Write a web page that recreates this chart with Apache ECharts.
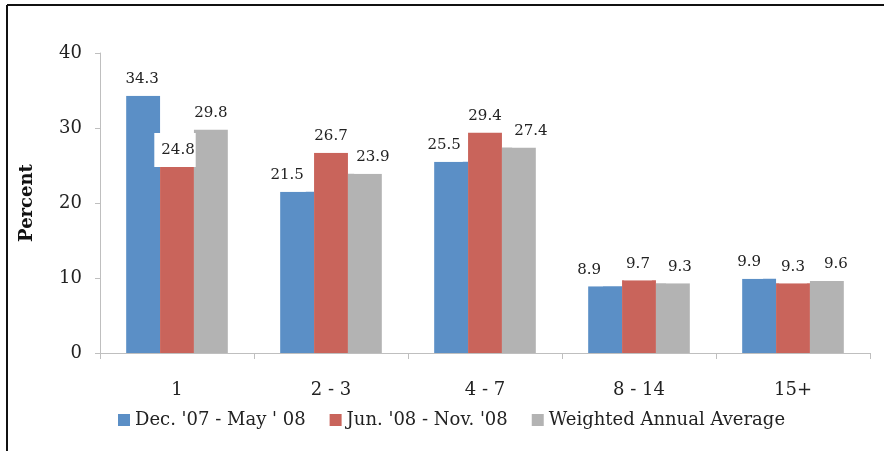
<!DOCTYPE html>
<html><head><meta charset="utf-8">
<script src="https://cdn.jsdelivr.net/npm/echarts@6/dist/echarts.min.js"></script>
<style>html,body{margin:0;padding:0;background:#fff}#c{width:884px;height:451px}</style>
</head><body><div id="c"></div>
<script>
const categories = ['1', '2 - 3', '4 - 7', '8 - 14', '15+'];
const seriesNames = ["Dec. '07 - May ' 08", "Jun. '08 - Nov. '08", "Weighted Annual Average"];
const decMay = [34.3, 21.5, 25.5, 8.9, 9.9];
const junNov = [24.8, 26.7, 29.4, 9.7, 9.3];
const weighted = [29.8, 23.9, 27.4, 9.3, 9.6];
const yTicks = [0, 10, 20, 30, 40];
const colors = ['#5b8fc6', '#c9645b', '#b3b3b3'];
const font = 'DejaVu Serif';

// horizontal label nudges (px) mimicking the original's overlap avoidance
const labelNudge = [
  [-1, -10, -7, -16, -10],
  [-2, 0, 0, -1, 0],
  [0, 8, 12, 7, 9]
];

const chart = echarts.init(document.getElementById('c'), null, {renderer: 'canvas'});
const mk = (si, data) => ({
  name: seriesNames[si], type: 'bar', barGap: '0%', barCategoryGap: '34%',
  data: data.map((v, i) => {
    const lab = {offset: [labelNudge[si][i], 0]};
    if (si === 1 && i === 0) lab.padding = [10, 1, 9, 7];
    return {value: v, label: lab};
  }),
  itemStyle: {color: colors[si]},
  label: {show: true, position: 'top', distance: 0, fontFamily: font, fontSize: 15, color: '#222',
    backgroundColor: '#fff', padding: [10, 2, 9, 2]}
});
chart.setOption({
  animation: false,
  color: colors,
  textStyle: {fontFamily: font},
  grid: {left: 100, right: 14, top: 53, bottom: 98, containLabel: false},
  legend: {
    bottom: 17, left: 113, itemWidth: 12, itemHeight: 12, itemGap: 24,
    icon: 'rect', textStyle: {fontFamily: font, fontSize: 18, color: '#222'},
    data: seriesNames
  },
  xAxis: {
    type: 'category', data: categories,
    axisLine: {lineStyle: {color: '#bfbfbf'}},
    axisTick: {show: true, length: 6, lineStyle: {color: '#bfbfbf'}},
    axisLabel: {fontFamily: font, fontSize: 18, color: '#222', margin: 28}
  },
  yAxis: {
    type: 'value', min: yTicks[0], max: yTicks[yTicks.length - 1], interval: 10,
    name: 'Percent', nameLocation: 'middle', nameGap: 64,
    nameTextStyle: {fontFamily: font, fontSize: 18, fontWeight: 'bold', color: '#111'},
    axisLine: {show: true, lineStyle: {color: '#bfbfbf'}},
    axisTick: {show: true, length: 5, lineStyle: {color: '#bfbfbf'}},
    splitLine: {show: false},
    axisLabel: {fontFamily: font, fontSize: 18, color: '#222', margin: 18}
  },
  series: [mk(0, decMay), mk(1, junNov), mk(2, weighted)],
  graphic: [
    {type: 'line', shape: {x1: 7, y1: 5, x2: 884, y2: 5}, style: {stroke: '#111', lineWidth: 2}},
    {type: 'line', shape: {x1: 7, y1: 5, x2: 7, y2: 451}, style: {stroke: '#111', lineWidth: 2}}
  ]
});
</script></body></html>
